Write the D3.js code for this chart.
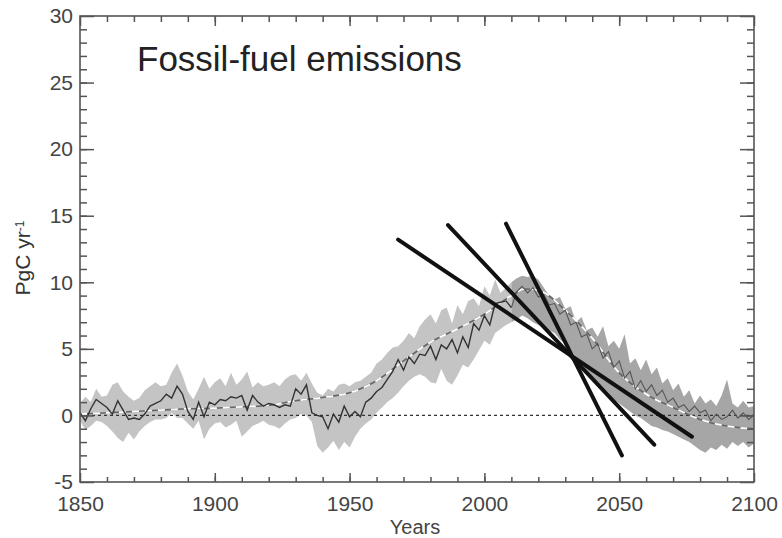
<!DOCTYPE html>
<html>
<head>
<meta charset="utf-8">
<script src="https://cdn.jsdelivr.net/npm/d3@7"></script>
<style>
  body { margin: 0; background: #fff; }
  svg { display: block; font-family: "Liberation Sans", Arial, sans-serif; }
</style>
</head>
<body>
<svg id="chart" width="782" height="538"></svg>
<script>
// Years sampled every 2 years
const years = [1850,1852,1854,1856,1858,1860,1862,1864,1866,1868,1870,1872,1874,1876,1878,1880,1882,1884,1886,1888,
  1890,1892,1894,1896,1898,1900,1902,1904,1906,1908,1910,1912,1914,1916,1918,1920,1922,1924,1926,1928,
  1930,1932,1934,1936,1938,1940,1942,1944,1946,1948,1950,1952,1954,1956,1958,1960,1962,1964,1966,1968,
  1970,1972,1974,1976,1978,1980,1982,1984,1986,1988,1990,1992,1994,1996,1998,2000,2002,2004,2006,2008,
  2010,2012,2014,2016,2018,2020,2022,2024,2026,2028,2030,2032,2034,2036,2038,2040,2042,2044,2046,2048,
  2050,2052,2054,2056,2058,2060,2062,2064,2066,2068,2070,2072,2074,2076,2078,2080,2082,2084,2086,2088,
  2090,2092,2094,2096,2098,2100];

// Emissions (dark line), PgC/yr
const emissions = [0.2,-0.4,0.5,1.2,0.9,0.6,0.1,1.1,0.4,-0.3,-0.2,-0.3,0.1,0.7,0.9,1.1,1.6,1.3,2.2,1.6,
  0.3,-0.3,1.0,-0.1,1.0,0.8,1.2,1.1,1.4,1.3,1.5,0.4,1.5,1.0,0.7,0.9,0.8,0.6,0.8,0.7,
  2.0,1.6,2.3,0.2,0.0,-0.1,-1.0,0.1,-0.5,0.7,-0.1,0.3,-0.1,1.0,1.3,1.8,2.1,2.7,3.3,4.2,
  3.4,4.4,3.9,4.6,4.5,5.2,4.2,5.3,5.0,5.7,4.7,5.9,5.1,6.9,6.4,7.5,6.8,8.4,8.5,8.6,
  8.1,9.3,9.7,9.2,9.6,8.9,9.1,8.3,8.4,7.6,7.9,6.8,7.0,5.9,6.1,5.0,5.4,4.3,4.8,3.6,
  4.1,2.8,3.3,2.0,2.6,1.8,2.3,1.5,1.9,1.0,1.3,0.6,0.8,0.3,0.7,0.2,0.4,-0.4,0.1,-0.3,
  -0.1,0.4,-0.2,0.2,-0.3,0.0];

// Uncertainty band
const bandUpper = [0.9,1.4,1.0,2.0,1.4,1.5,2.3,2.5,1.8,1.4,1.1,1.3,1.9,2.2,2.5,2.2,2.3,3.2,3.9,3.0,
  1.8,1.2,2.0,2.9,2.0,2.5,2.8,2.2,3.2,2.3,2.7,3.3,2.1,2.5,2.2,2.3,2.5,2.2,2.7,3.0,
  3.1,2.6,3.2,2.4,1.7,1.5,2.0,1.8,2.3,2.4,2.2,2.5,2.6,2.9,3.2,3.9,4.2,4.7,5.1,5.2,
  5.6,6.2,5.8,6.7,7.2,7.6,6.9,7.9,8.1,6.9,8.3,7.6,8.6,8.8,8.2,9.7,9.0,10.2,9.2,9.6,
  10.0,10.3,10.5,10.4,10.5,10.2,9.6,9.0,8.7,8.9,8.0,8.2,7.0,7.4,6.4,6.6,5.9,6.7,5.2,5.6,
  5.0,6.1,3.9,4.3,3.4,4.2,3.1,3.6,2.4,2.8,1.9,2.4,1.4,1.9,0.9,1.5,0.9,1.2,0.7,1.5,
  2.7,0.9,0.6,1.1,0.6,0.7];
const bandLower = [-0.4,-1.1,-0.8,-0.4,-0.5,-0.8,-1.2,-1.7,-2.0,-1.3,-1.8,-1.2,-0.8,-0.5,-0.3,-0.3,-0.2,0.2,-0.2,-0.2,
  -0.6,-1.0,-0.4,-1.8,-1.0,-0.6,-0.5,-0.9,-0.7,-0.4,-1.6,-1.2,-0.8,-0.6,-0.4,-0.7,-0.8,-1.0,-0.6,-0.3,
  -0.2,0.1,0.0,-0.5,-2.3,-2.8,-2.4,-1.9,-2.6,-2.0,-2.4,-1.6,-1.0,-0.6,-0.3,0.2,0.6,1.0,1.3,1.7,
  2.2,2.6,2.9,3.1,2.9,2.5,2.4,3.5,2.6,2.3,3.0,3.8,3.6,4.2,4.9,5.6,5.3,6.2,6.5,6.8,
  7.0,7.2,7.5,7.3,7.0,6.8,6.6,6.4,6.2,5.7,5.4,5.0,4.3,3.9,3.4,2.9,2.5,2.1,1.7,1.2,
  0.9,0.6,0.3,0.0,-0.2,-0.5,-0.8,-0.9,-1.1,-1.2,-1.4,-1.6,-1.8,-2.0,-2.3,-2.6,-2.8,-2.4,-2.6,-2.2,
  -2.5,-2.0,-2.3,-2.0,-2.4,-2.1];

// Smoothed trend (dashed line)
const trendYears = [1850,1860,1870,1880,1890,1900,1910,1920,1930,1940,1950,1960,1970,1980,1990,2000,2010,2015,2020,2030,2040,2050,2060,2070,2080,2090,2100];
const trendValues = [0.1,0.2,0.3,0.4,0.5,0.55,0.65,0.75,1.1,1.35,1.7,2.6,4.1,5.5,6.5,7.6,9.0,9.5,9.4,7.9,5.8,3.2,1.6,0.6,-0.3,-0.8,-1.0];

// Three straight decline lines: [start year, start value, end year, end value]
const declineLines = [
  [1968, 13.2, 2077, -1.6],
  [1986.5, 14.3, 2063, -2.2],
  [2008, 14.4, 2051, -3.0]
];

const xTicks = [1850, 1900, 1950, 2000, 2050, 2100];
const yTicks = [-5, 0, 5, 10, 15, 20, 25, 30];

const svg = d3.select('#chart');
const margin = { top: 16, right: 28, bottom: 56, left: 80 };
const width = 782 - margin.left - margin.right;
const height = 538 - margin.top - margin.bottom;

const g = svg.append('g').attr('transform', `translate(${margin.left},${margin.top})`);

const x = d3.scaleLinear().domain([1850, 2100]).range([0, width]);
const y = d3.scaleLinear().domain([-5, 30]).range([height, 0]);

const rows = years.map((yr, i) => ({ year: yr, v: emissions[i], lo: bandLower[i], hi: bandUpper[i] }));

const area = d3.area()
  .x(d => x(d.year))
  .y0(d => y(d.lo))
  .y1(d => y(d.hi));

// Historical band (lighter) and projection band (darker)
g.append('path')
  .datum(rows.filter(d => d.year <= 2010))
  .attr('fill', '#c4c4c4')
  .attr('d', area);

g.append('path')
  .datum(rows.filter(d => d.year >= 2010))
  .attr('fill', '#a6a6a6')
  .attr('d', area);

// Zero line
g.append('line')
  .attr('x1', 0).attr('x2', width)
  .attr('y1', y(0)).attr('y2', y(0))
  .attr('stroke', '#333')
  .attr('stroke-width', 1.3)
  .attr('stroke-dasharray', '3,3');

// Smoothed trend, dark and white dashes
const trend = trendYears.map((yr, i) => ({ year: yr, v: trendValues[i] }));
const trendLine = d3.line().curve(d3.curveMonotoneX).x(d => x(d.year)).y(d => y(d.v));

g.append('path')
  .datum(trend)
  .attr('fill', 'none')
  .attr('stroke', '#666')
  .attr('stroke-width', 1.6)
  .attr('d', trendLine);

g.append('path')
  .datum(trend)
  .attr('fill', 'none')
  .attr('stroke', '#fff')
  .attr('stroke-width', 1.8)
  .attr('stroke-dasharray', '7,6')
  .attr('d', trendLine);

// Emissions line
const line = d3.line().x(d => x(d.year)).y(d => y(d.v));

g.append('path')
  .datum(rows.filter(d => d.year <= 2010))
  .attr('fill', 'none')
  .attr('stroke', '#333')
  .attr('stroke-width', 1.4)
  .attr('d', line);

g.append('path')
  .datum(rows.filter(d => d.year >= 2010))
  .attr('fill', 'none')
  .attr('stroke', '#555')
  .attr('stroke-width', 1.1)
  .attr('d', line);

// Thick black decline lines
g.selectAll('.decline')
  .data(declineLines)
  .enter()
  .append('line')
  .attr('class', 'decline')
  .attr('x1', d => x(d[0]))
  .attr('y1', d => y(d[1]))
  .attr('x2', d => x(d[2]))
  .attr('y2', d => y(d[3]))
  .attr('stroke', '#111')
  .attr('stroke-width', 4)
  .attr('stroke-linecap', 'round');

// Axes: minor ticks every 10 years / 1 unit, major ticks with labels
const minorX = d3.range(1860, 2100, 10);
const minorY = d3.range(-4, 30, 1);

function styleAxis(sel) {
  sel.select('.domain').remove();
  sel.selectAll('line').attr('stroke', '#555').attr('stroke-width', 1.5);
  sel.selectAll('text')
    .attr('fill', '#444')
    .style('font-size', '21px');
}

g.append('g').attr('transform', `translate(0,${height})`)
  .call(d3.axisBottom(x).tickValues(minorX).tickSize(-5).tickFormat(''))
  .call(styleAxis);
g.append('g').attr('transform', `translate(0,${height})`)
  .call(d3.axisBottom(x).tickValues(xTicks).tickSize(-9).tickPadding(14).tickFormat(d => d))
  .call(styleAxis);

g.append('g')
  .call(d3.axisTop(x).tickValues(minorX).tickSize(-6).tickFormat(''))
  .call(styleAxis);
g.append('g')
  .call(d3.axisTop(x).tickValues(xTicks).tickSize(-10).tickFormat(''))
  .call(styleAxis);

g.append('g')
  .call(d3.axisLeft(y).tickValues(minorY).tickSize(-7).tickFormat(''))
  .call(styleAxis);
g.append('g')
  .call(d3.axisLeft(y).tickValues(yTicks).tickSize(-14).tickPadding(7).tickFormat(d => d))
  .call(styleAxis);

g.append('g').attr('transform', `translate(${width},0)`)
  .call(d3.axisRight(y).tickValues(minorY).tickSize(-7).tickFormat(''))
  .call(styleAxis);
g.append('g').attr('transform', `translate(${width},0)`)
  .call(d3.axisRight(y).tickValues(yTicks).tickSize(-14).tickFormat(''))
  .call(styleAxis);

// Frame
g.append('rect')
  .attr('width', width)
  .attr('height', height)
  .attr('fill', 'none')
  .attr('stroke', '#555')
  .attr('stroke-width', 1.6);

// Title
g.append('text')
  .attr('x', 57)
  .attr('y', 55)
  .attr('fill', '#222')
  .style('font-size', '35px')
  .text('Fossil-fuel emissions');

// Axis labels
svg.append('text')
  .attr('x', 415)
  .attr('y', 534)
  .attr('text-anchor', 'middle')
  .attr('fill', '#444')
  .style('font-size', '20px')
  .text('Years');

const yLabel = svg.append('text')
  .attr('transform', 'translate(30,258) rotate(-90)')
  .attr('text-anchor', 'middle')
  .attr('fill', '#333')
  .style('font-size', '21px');
yLabel.append('tspan').text('PgC yr');
yLabel.append('tspan')
  .attr('dy', '-0.5em')
  .style('font-size', '12px')
  .text('-1');
</script>
</body>
</html>
